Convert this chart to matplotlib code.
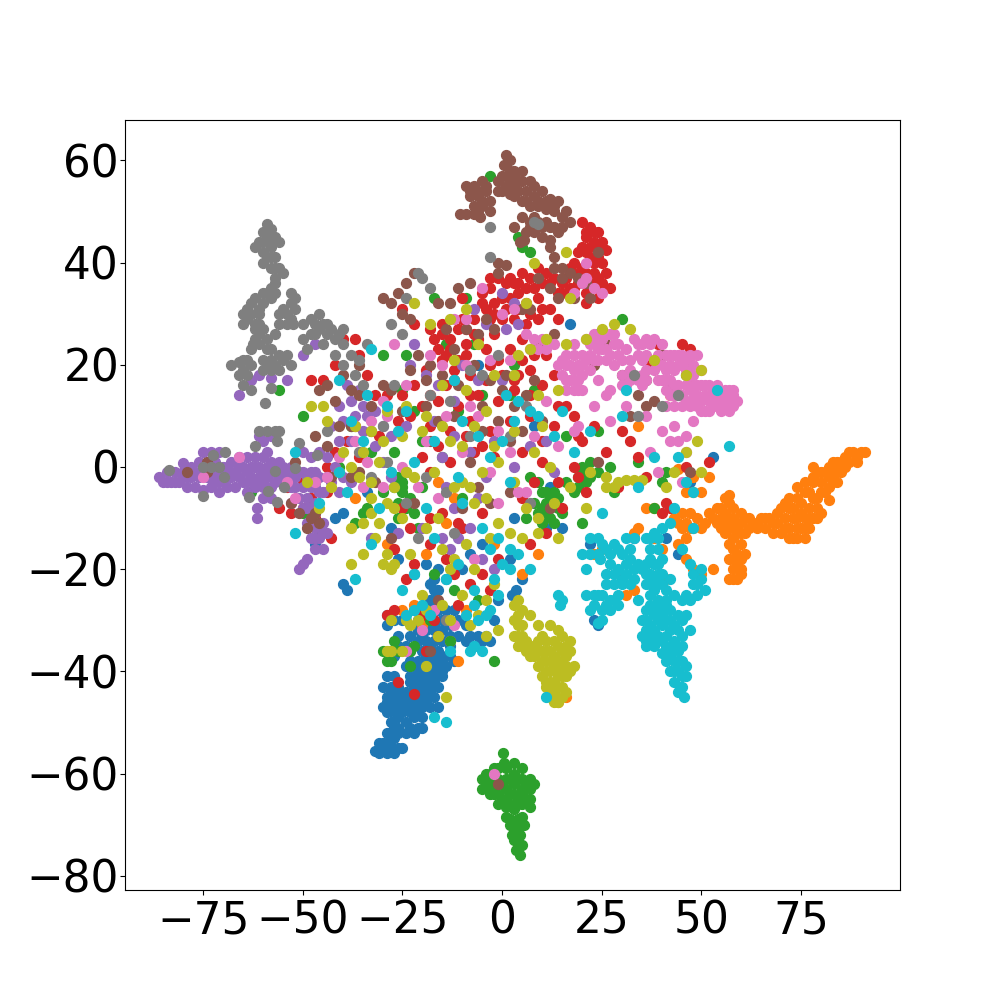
#!/usr/bin/env python3
"""t-SNE style scatter of ten classes, points read off the picture."""

import matplotlib
matplotlib.use("Agg")
import matplotlib.pyplot as plt

class0 = [(-32,-55.5),(-31,-56),(-30,-55),(-29,-56),(-28,-55),(-27,-56),(-26,-55),(-25,-55),(-30,-54),(-27,-53),
    (-29,-52),(-27,-51),(-28,-50),(-26,-49),(-29,-48),(-24,-52),(-22,-52),(-21,-51),(-24,-50),(-22,-49),
    (-20,-49),(-30,-47),(-28,-47),(-26,-47),(-24,-47),(-22,-47),(-20,-47),(-18,-47),(-16,-47),(-29,-45),
    (-27,-45),(-25,-45),(-23,-45),(-21,-45),(-19,-45),(-17,-45),(-30,-43),(-28,-43),(-26,-43),(-29,-41),
    (-27,-41),(-22,-43),(-20,-43),(-18,-43),(-16,-43),(-23,-41),(-21,-41),(-19,-41),(-17,-41),(-15,-41),
    (-24,-39),(-22,-39),(-20,-39),(-18,-39),(-16,-39),(-14,-39),(-12,-38),(-19,-37),(-17,-37),(-15,-37),
    (-13,-37),(-28,-36),(-26,-35),(-24,-35),(-26,-33),(-21,-34),(-19,-34),(-17,-34),(-15,-34),(-9,-34),
    (-7,-35),(-5,-34),(-3,-34),(-29,-31),(-27,-30),(-25,-30),(-21,-30),(-19,-31),(-17,-31),(-15,-30),
    (-13,-31),(-11,-30),(-20,-28),(-18,-28),(-16,-28),(-14,-28),(-17,-26),(-17,-24),(-17,-22),(-16,-20),
    (2.5,-25),(3.5,-24),(5,-22),(-9,-31),(-2,-30),(11,-12),(2,-18),(-40,-23),(-39,-24),(-40,-9),
    (-28,-12),(44,-17),(41,-14),(53,2),(47,-3),(15,-12),(30,-22),(-34,-5),(3,-10),(-18,-23),
    (-14,-22),(-1,-26),(12,-4),(-5,-15),(-8,-17),(-10,-20),(23,-30),(24,-31),(-42,-10),(33,-14),
    (-22,-21),(-19,-19),(8,8),(17,28),(24,26),(-6,20),(-47,-15),(22,-15),(-26,-18),
    (-31,-54),(-29,-54),(-28,-53),(-28,-52),(-26,-51),(-25,-48),(-23,-48),(-21,-48),(-27,-48),(-26,-52),
    (-23,-51),(-20,-51),(-29,-46),(-27,-46),(-25,-46),(-23,-46),(-21,-46),(-19,-46),(-28,-44),(-26,-44),
    (-24,-44),(-22,-44),(-20,-44),(-18,-44),(-23,-42),(-21,-42),(-19,-42),(-17,-42),(-15,-40),(-21,-40),
    (-19,-40),(-17,-40),(-23,-38),(-21,-38),(-17,-38),(-15,-38),(-13,-35),(-23,-36),(-20,-36),(-27,-37),
    (-21,-32),(-19,-32),(-17,-32),(-15,-32),(-13,-33),(-11,-33),(-23,-33),(-20,-33),(-18,-26),(-16,-24),
    (-18,-35),(-16,-36),(-8,-33),(-6,-33),(-4,-33),(-28,-30),(-29,-29),(-22,-28),(-12,-28)]
class1 = [(90,3),(89,2),(91,3),(88,3),(87,1),(86,0),(85,1),(84,-1),(83,1),(82,-2),
    (85,-1),(83,-3),(81,-5),(82,-6.5),(80,-3),(78,0),(79,-1),(80,-1),(78,-3),(76,-3),
    (74,-4),(77,-5),(79,-6),(72,-6),(75,-7),(77,-8),(79,-8),(70,-8),(73,-8),(71,-10),
    (74,-10),(76,-10),(78,-10),(80,-9),(69,-9),(68,-11),(72,-12),(75,-12),(77,-12),(70,-13),
    (73,-14),(76,-14),(67,-10),(65,-10),(63,-11),(61,-10),(66,-12),(64,-12),(62,-12),(68,-13),
    (60,-9),(58,-8),(56,-9),(54,-8),(55,-10),(57,-10),(59,-11),(53,-10),(55,-12),(57,-12),
    (59,-13),(61,-13),(56,-6),(57,-5.5),(58,-14),(60,-15),(57,-15),(59,-17),(61,-17),(57,-18),
    (59,-19),(58,-20),(60,-21),(57,-22),(59,-22),(44,-11),(46,-11),(48,-12),(50,-12),(51,-11),
    (47,-9),(45,-9),(43,-10),(44,-15),(46,-14),(33,-13),(34,-12),(36,-8),(38,-8),(48,-2),
    (44,-0.5),(46,-5),(48,-5),(50,-5),(52,-2),(48,-20),(50,-21),(53,-20),(46,-18),(23,-17),
    (25,-16),(38,-14),(40,-16),(41,-22),(14,-46),(16,-45),(31,-25),(33,-24),(-2,-15),(-9,-28),
    (-20,-31),(-22,-27),(-29,-15),(-12,-6),(-14,-11),(-25,-28),(-11,-38),(-13,-34),(5,-21),(-16,-3),
    (34,8),(42,14),(47,16),(-37,-6),(-19,-17),(9,-17),
    (89,1),(87,3),(86,2),(84,1),(82,0),(81,-1),(83,-1),(84,-3),(82,-4),(80,-5),
    (78,-2),(76,-5),(74,-6),(72,-8),(78,-6),(71,-7),(69,-11),(73,-10),(75,-9),(77,-10),
    (79,-10),(71,-12),(74,-12),(76,-12),(72,-14),(74,-14),(66,-10),(64,-11),(62,-10),(60,-11),
    (58,-10),(56,-11),(54,-11),(58,-12),(60,-13),(56,-13),(58,-16),(60,-18),(58,-18),(60,-20),(58,-22),
    (55,-8),(57,-7),(52,-9),(49,-10),(47,-12),(45,-12)]
class2 = [(0.3,-56),(0.5,-58),(-2,-59),(-4,-60),(3,-58),(5,-59),(-5,-61),(-3,-61),(-1,-61),(1,-61),
    (3,-60),(5,-61),(7,-61),(-5,-63),(-3,-63),(-1,-62),(1,-63),(3,-62),(5,-63),(7,-63),
    (8,-62),(-2,-64),(0,-65),(2,-64),(4,-65),(6,-65),(-1,-66),(2,-66),(4,-66),(7,-66.5),
    (1,-68.5),(5,-68.5),(2,-70),(4,-70),(5.5,-70),(3,-71),(2.5,-72),(4.5,-72),(3,-73),(5,-74),
    (3.5,-75),(4.5,-76),(-29,-38),(-30,-36),(-28,-38),(-26,-36),(-23,-36),(-27,-34),(-23,-39),(-22,-35),
    (-16,-33),(-18,-30),(-13,-34),(-26,-2),(-25,-3),(-24,-1),(-25,-5),(-26,-7),(-23,-6),(-26,-10),
    (-22,-9),(-20,-4),(-27,-4),(10,-5),(11,-7),(12,-8),(9,-9),(14,-6),(13,-5),(15,-9),
    (16,-3),(13,-11),(11,-9),(8,-7),(10,-11),(18,-5),(19,-2),(20,0),(22,-2),(24,-1),
    (20,-1),(21,-3),(22,1),(20,-11),(38,-8),(-37,-11),(-35,-9),(-46,-13),(-50,-9),(6,-10),
    (-24,22),(-25,15),(-17,33),(-14,24),(-9,33),(-27,3),(3,20),(-7,24),(5,43),(4,45),
    (-2,-38),(-30,22),(-34,-8),(-47,-3),(-50,10),(28,-5),(-30,-5),(-63,-5),(-38,8),(-56,15),
    (-10,-6),(7,42),(-3,57),(9,-3),(-15,2),(-5,14),(2,14),(-11,11),(8,15),(16,6),
    (24,7),(-20,5),(-33,3),(-41,0),(27,0),(34,1),(40,-3),(41,-1),(30,29),(7,-2),
    (-22,11),(-12,-24),(-6,-26),(-17,-21),(-21,-12),
    (-3,-60),(-1,-59),(1,-59),(-4,-62),(-2,-62),(0,-62),(2,-61),(4,-61),(6,-62),(-3,-64),
    (-1,-64),(1,-65),(3,-64),(5,-64),(7,-65),(1,-66.5),(3,-67),(5,-66),(2,-69),(4,-69),
    (3,-70),(4,-71),(3.5,-72),(4,-73.5),(4,-75),(12,-6),(10,-8),(12,-10),(14,-8),(11,-5),
    (-25,-4),(-24,-8),(19,-4),(21,-1)]
class3 = [(20,48),(22,47),(24,46),(21,45),(23,44),(25,44),(20,43),(26,42.5),(19,42),(22,41),
    (24,41),(18,40),(17,39),(20,39),(23,38),(26,38),(16,37),(19,36),(22,36),(25,36),(27,35),
    (17,35),(21,34),(24,35),(21,32),(24,33),(15,36),(13,37),(11,38),(9,39),(7,37),
    (5,38),(3,36),(1,36),(-1,37),(-3,35),(-5,34),(12,36),(8,35),(4,34),(2,33),
    (0,33),(-2,32),(-4,31),(6,32),(9,33),(14,34),(12,31),(-3,29),(0,29),(3,29),
    (6,28),(9,29),(14,29),(-7,29),(-10,29),(-15,28),(-17,25),(-18,27),(-15,26),(-13,25),
    (-11,27),(-9,24),(-13,23),(-11,21),(-6,25),(-4,23),(-2,26),(-1,21),(2,23),(5,25),
    (8,22),(11,22),(7,19),(4,18),(0,18),(-4,17),(-8,18),(-12,17),(-15,21),(-19,19),
    (-22,16),(-25,14),(-16,13),(-11,12),(-6,14),(-1,13),(3,15),(10,16),(13,18),(16,12),
    (-20,12),(-18,8),(-13,7),(-8,9),(-3,7),(2,9),(7,10),(14,12),(18,10),(20,5),
    (23,8),(26,3),(18,0),(14,-3),(10,1),(5,3),(-2,2),(-7,3),(-13,1),(-20,2),
    (-40,25),(-37,25),(-42,20),(-45,17),(-48,17),(-34,18),(-32,14),(-26,9),(-31,6),(-36,2),
    (-39,5),(-44,0),(-50,-8),(-53,-9),(-56,-8),(-54,-4),(-50,-3),(-48,-6),(-27,-16),(-18,-15),
    (-11,-11),(-5,-9),(-22,-44.5),(-26,-42),(-19,-36),(-16,-33),(-20,-29),(-17,-30),(-29,-29),(-27,-28),
    (-11,-27),(-12,-21),(-3,-24),(-1,-18),(-22,-19),(-24,-22),(-14,-18),(-5,-21),(-8,-23),(7,-15),
    (42,-8),(41,-7),(40,-9),(52,1),(46,0),(-18,-1),(-25,-8),(-23,-12),(-18,-10),(-15,-9),
    (-10,-12),(5,-6),(8,-3),(11,-13),(15,-8),(21,-5),(30,7),(34,2),(32,5),(-10,33),
    (-22,28),(-25,31),(-36,22),(19,-2),(29,-4),(36,-2),(-43,-14),(-47,-10),(-44,-5),(37,20),
    (39,24),(45,24),(47,23),
    (21,46),(23,46),(22,43),(24,43),(21,42),(23,40),(25,40),(19,38),(21,38),(24,37),
    (18,35),(15,34),(2,37),(4,36),(6,35),(10,36),(-3,37),(-5,32),(-2,30),(1,31),
    (4,31),(7,30),(10,31),(-16,23),(-14,22),(-9,27),(-7,26),(-12,19),(-9,22),(-3,20),
    (5,21),(3,17),(-8,14),(-14,16),(7,14),(-18,14),(-23,10),(-16,4),(-9,6),(-5,4),
    (10,5),(13,8),(19,6),(-29,14),(-37,8),(-42,3)]
class4 = [(-86,-2),(-85,-3),(-84,-1),(-83,-3),(-82,-1),(-81,-3),(-80,0.8),(-80,-2),(-79,-4),(-78,0),
    (-78,-2),(-77,-4),(-76,1),(-76,-2),(-75,-4.5),(-75,3),(-74,0),(-74,-2),(-73,-4),(-73,3),
    (-72,1),(-72,-1),(-71,-3),(-71,-5),(-71,3),(-70,0),(-69,-2),(-69,-4),(-68,1),(-67,-1),
    (-67,-4),(-66,2),(-65,0),(-65,-3),(-64,-5),(-64,2),(-63,0),(-63,-2),(-62,-4),(-62,2),
    (-61,0),(-61,-2),(-60,-4),(-60,-6),(-60,2),(-59,0),(-59,-2),(-58,-4),(-58,-6),(-58,1),
    (-57,-1),(-56,1),(-56,-2),(-55,0),(-55,-3),(-54,-1),(-53,0),(-52,-2),(-53,-4),(-51,-1),
    (-50,-4),(-49,-2),(-49,-6),(-48,-1),(-47,-4),(-47,-7),(-46,-2),(-45,-5),(-51,-6),(-50,-8),
    (-48,-8),(-53,-7),(-61.5,-8),(-61.5,-10),(-49,-11),(-47,-12),(-45,-11),(-48,-14),(-46,-14),(-44,-13),
    (-47,-16),(-45,-16),(-50,-19),(-49,-18),(-51,-20),(-58,6),(-60,5),(-61,6),(-59,3),(-50,3),
    (-48,2),(-46,3),(-44,2),(-42,0),(-40,-2),(-43,-3),(-41,-5),(-38,-3),(-41,5),(-38,5),
    (-35,7),(-43,8),(-40,9),(-37,10),(-34,10),(-41,12),(-38,13),(-35,12),(-32,11),(-36,15),
    (-39,16),(-30,8),(-28,6),(-24,8),(-32,4),(-30,1),(-28,-2),(-20,-12),(-15,-14),(-13,-16),
    (-11,-14),(-8,-12),(-5,-18),(-2,-20),(-15,2),(-12,6),(-8,3),(-4,-2),(-2,5),(3,0),
    (7,4),(11,5),(13,-1),(-10,20),(-6,17),(0,17),(-19,18),(-4,28),(1,27),(4,28),
    (-47,24),(-50,22),(-54,17),(-58,17.5),(-61,18),(-63,17),(-66,14),(-14,-4),(-12,-8),(-33,-14),
    (-26,-13),(-16,16),(-12,13),(-6,-6),(-17,9),(-23,20),(-7,31),(0,34),(3,32),(-22,24),
    (-84,-3),(-82,-3),(-80,-1),(-79,-2),(-77,-1),(-75,-1),(-73,-2),(-71,-1),(-69,0),(-68,-2),
    (-66,-2),(-64,-1),(-62,0),(-60,-1),(-58,-1),(-57,-3),(-55,-1),(-53,-2),(-52,-4),(-50,-1),
    (-48,-4),(-46,-5),(-47,-1),(-44,-2),(-49,-8),(-47,-9),(-45,-13),(-47,-14),(-60,-3),(-62,-3),
    (-64,-3),(-66,0),(-68,-1),(-70,-2),(-72,-3)]
class5 = [(1,61),(0.5,59),(2,60),(3,58),(1,57),(3,57),(5,58),(7,56),(-1,56),(1,55),
    (3,55),(5,56),(-1,54),(2,53.5),(4,54),(6,54),(8,55),(5,52),(8,53),(10,54),
    (12,52.5),(14,52),(16,50),(7,51),(9,51),(11,50.5),(13,50),(15,49),(17,48),(-9,55),
    (-7,55),(-5,56),(-4,54),(-8,53),(-6,53),(-3,52),(-7,51),(-5,51),(-3,50),(-10.5,49.5),
    (-9,49.5),(-7,49.5),(-5.5,49),(5,49),(7,48),(9,48),(11,48),(13,47),(6,46),(8,46),
    (10,45),(12,44.5),(14,46),(12,43),(3,47),(4.5,44),(5.5,44.5),(-1,40),(1,39.5),(-1,38),
    (15,39),(17,38),(13,39),(19,37),(15,37),(9,37),(12,35),(14,33),(18,33),(21,36),
    (24,42),(22,33),(13,41),(-30,33),(-28,32),(-26,34),(-24,36),(-22,38),(-25,30),(-23,29),
    (-13,32),(-16,32),(-11,35),(-8,36),(-4,29),(-2,27),(-6,26),(-9,27),(-12,23),(-18,20),
    (-21,22),(-19,17),(-23,19),(-15,18),(-11,16),(-7,20),(-5,12),(-1,9),(3,12),(6,14),
    (8,17),(5,7),(10,9),(1,18),(-44,16),(-46,15),(-40,18),(-42,13),(-38,15),(-36,20),
    (-33,12),(-30,16),(-41,8),(-47,6),(-44,4),(-52,1),(-53,-7),(-51,-9),(-48,-10),(-47,-9),
    (-38,-2),(-32,-3),(-28,-14),(-22,-7),(-10,-8),(-6,-4),(2,-5),(-16,-26),(-18,-36),(38,13),
    (36,17),(42,16),(34,14),(46,18),(23,20),(26,24),(30,18),(9,24),(13,26),(-3,17),
    (0,15),(-1,-62),(-16,9),(-12,10),(-18,5),(2,5),(-3,-7),(-8,1),(12,-8),(-38,8),
    (-14,27),(-19,12),(-5,7),(-33,7),(-36,-1),(-43,-2),(-28,15),(-25,11),(47,20),(40,22),
    (36,12),(32,10),(24,1),(47,-1),(7,31),(5,31),(-36,14),(-74,-1),(-79,-1),(-49,-12),(-46,-11),(-74,1),
    (2,58),(0,57),(2,56),(4,56),(0,54),(3,53),(6,52),(9,52),(11,52),(13,51),
    (-8,54),(-6,54),(-5,52),(-6,50),(8,49),(10,47),(12,47),(7,47),(-4,55),(15,47)]
class6 = [(59,13),(58,15),(57,13),(56,12),(55,14),(54,13),(53,15),(52,13),(51,14),(50,16),
    (49,14),(48,16),(47,15),(46,13),(45,12),(44,14),(43,16),(42,17),(41,15),(40,17),
    (57,11),(55,11),(53,12),(51,11),(58,12),(56,15),(54,16),(52,16),(49,12),(47,12),
    (43,12),(41,12),(50,19),(48,20),(46,19),(44,20),(42,20),(40,20),(49,22),(47,22),
    (45,22),(43,22),(41,22),(39,22),(37,24),(35,24),(33,25),(38,25),(36,22),(34,22),
    (38,19),(36,17),(33,18),(31,16),(30,18),(35,16),(32,21),(29,22),(28,24),(26,23),
    (27,26),(25,25),(24,23),(23,21),(22,24),(21,21),(20,18),(19,20),(18,22),(17,17),
    (16,20),(15,18),(21,25),(20,15),(18,15),(16,15),(19,17),(17,20),(15,21),(23,26),
    (26,21),(28,20),(27,15),(24,17),(13,24),(10,25),(8,25),(6,26),(9,23),(7,23),
    (11,23),(18,24),(21,40),(21,37),(20,36),(18,34),(23,35),(25,34),(3,31),(0,30),
    (-5,35),(-9,29),(19,8),(26,14),(31,12),(36,10),(40,7),(43,8),(46,6),(48,9),
    (50,11),(44,5),(42,5),(46,3),(27,9),(23,12),(18,7),(14,4),(8,6),(2,3),
    (-3,-1),(-8,12),(-14,10),(-19,5),(-25,0),(-30,-4),(-35,-4),(-44,-2),(-54,-3),(-66,2),
    (-75,-2),(-21,-4),(-27,24),(-17,-28),(-20,-32),(-24,-36),(-12,-31),(-7,-18),(-1,-7),(6,-5),
    (45,-3),(39,-1),(-52,-6),(-47,-3),(-37,5),(-34,1),(-29,10),(-33,9),(-41,2),(-12,29),
    (-9,20),(-6,10),(-1,7),(4,-5),(-10,3),(-16,-6),(-30,13),(-24,16),(-18,22),(-15,20),
    (-3,21),(2,21),(11,13),(37,3),(-2,-60),
    (57,15),(55,13),(53,14),(51,16),(49,16),(47,13),(45,14),(43,14),(41,17),(39,17),
    (58,14),(56,14),(54,12),(52,11),(50,13),(48,13),(46,16),(44,16),(42,14),(47,18),
    (45,20),(43,19),(41,19),(46,21),(44,22),(42,22),(48,18),(40,24),(36,25),(34,24),
    (36,19),(34,17),(32,17),(30,16),(32,19),(31,23),(29,24),(27,22),(25,23),(23,24),
    (22,22),(20,22),(18,19),(20,20),(22,19),(16,17),(18,17),(14,20),(16,22),(19,15),
    (24,21),(26,26),(24,25),(28,26),(35,21),(30,21),(38,21),(35,18)]
class7 = [(-59,47.5),(-58,46.5),(-60,46),(-61,44),(-59,45),(-57,45),(-62,43),(-60,42),(-58,43),(-56,44),
    (-59,41),(-57,41),(-58,39),(-56,39),(-57,37),(-55,38),(-58,35),(-59,34),(-57,34),(-60,32),
    (-62,33),(-64,31),(-65,30),(-65,28),(-63,30),(-61,30),(-61,28),(-60,27),(-53,34),(-52,33),
    (-52,31),(-54,30),(-56,30),(-52.5,28),(-54,28),(-56,28),(-57,26),(-62,27),(-62,25),(-63,23),
    (-62.5,24),(-59,25),(-59,23),(-60,21),(-58,21),(-56,22),(-54,22),(-53,20),(-56,19),(-58,19),
    (-60,19),(-64,21),(-66,20.5),(-68,20),(-66,18),(-65,21),(-64,18),(-65,16),(-63,15),(-58,15.5),
    (-59.4,12.5),(-50,28),(-48,29),(-46,30),(-44,28),(-46,27),(-48,26),(-44,26),(-42,25),(-40,24),
    (-40,27),(-38,22),(-36,21),(-37,18),(-40,20),(-34,24),(-42,22),(-45,24),(-50,25),(-49,23),
    (-61,7),(-59,7),(-57,7),(-56,7),(-62,4),(-56.5,5),(-72.5,2.3),(-73,0),(-71,0),(-75,0),
    (-69.5,3),(-83.5,-0.6),(-75,-5.7),(-69.7,-2),(-63.5,-5.8),(-58.7,-4.7),(-57,-0.7),(-52,-0.2),(-54.7,-4),(-56.5,-6.9),
    (-51,4.6),(-46.4,2.3),(-44,7),(-36,3),(-33,-2),(-29,1),(-27,16),(-30,8),(-35,16),(-28,28),
    (-25,26),(-24,33),(-18,14),(-13,13),(-8,6),(2,6),(6,12),(-21,-14),(-12,-13),(-18,35),
    (-20,37),(-21,38),(-3,41),(-3,47),(8,48),(9,47.5),(7,-7),(34,10),(44,14),(40,12),
    (33,18),(-8,19),(-5,18),(-1,22),(-12,17),(-14,-5),(-19,-2),(-24,-7),(-14,-30),
    (-60,44),(-58,44),(-60,40),(-58,41),(-57,39),(-57,36),(-60,34),(-58,33),(-63,32),(-61,31),
    (-64,29),(-53,32),(-55,31),(-53,29),(-62,28),(-61,26),(-61,24),(-58,23),(-59,20),(-57,20),
    (-55,21),(-65,19),(-63,20),(-47,28),(-45,28),(-43,27),(-41,26),(-47,26)]
class8 = [(3,-27),(4,-26),(5,-28),(3,-30),(5,-31),(3,-33),(5,-33),(4,-35),(6,-34),(8,-35),
    (10,-36),(6,-36),(8,-37),(11,-38),(13,-37),(15,-36),(17,-36),(7,-29),(9,-31),(10,-33),
    (12,-31),(14,-32),(13,-34),(15,-33),(17,-34),(9,-39),(11,-40),(13,-39),(15,-38),(17,-40),
    (18,-39),(10,-41),(12,-42),(14,-41),(16,-41),(11,-43),(13,-44),(15,-43),(16,-44),(12,-45),
    (14,-46),(13,-46),(-19,-28),(-21,-30),(-15,-27),(-13,-30),(-16,-33),(-23,-31),(-25,-36),(-28,-36),
    (-19,-39),(-8,-31),(-6,-29),(-4,-33),(-1,-32),(-4,-26),(-29,-17),(-32,-14),(-30,-19),(-28,-20),
    (-25,-10),(-29,-7),(-27,-4),(-33,-3),(-35,-11),(-38,-19),(-23,-17),(-16,-10),(-12,-18),(-9,-15),
    (-7,-7),(-4,-6),(-1,-11),(2,-13),(5,-14),(9,-10),(13,-7),(17,-4),(21,-8),(-5,-1),
    (-10,4),(-15,8),(-19,10),(-17,-1),(-13,5),(-8,-4),(-2,4),(3,7),(8,3),(12,0),
    (26,-2),(29,-3),(31,-2.5),(33,-2.5),(35,-2.5),(28,-4),(41,-4),(43,-1),(46,3),(49,5),
    (50,-1),(-4,11),(-9,15),(-15,16),(-12,21),(-6,24),(-18,28),(-13,29),(-9,31),(3,18),
    (9,14),(14,15),(7,23),(11,25),(16,24),(21,25),(25,27),(28,28),(32,27),(-29,11),
    (-25,6),(-36,-2),(-40,3),(-44,9),(-49,-3),(-38,-12),(22,-1),(8,40),(16,42),(17,33),
    (-29,-36),(-14,-45),(-20,-25),(-27,-19),(-13,-20),(-10,-25),(-7,-20),(-2,-23),(-19,-12),(-22,-2),
    (-31,-11),(-27,-8),(-33,-9),(-35,-17),(-43,-4),(-46,-8),(-41,-1),(-37,8),(-33,7),(-24,-1),
    (-20,7),(-7,8),(-1,1),(10,8),(-3,-14),(3,-3),(6,-8),(9,-13),(14,-14),(-15,-16),
    (-31,1),(-35,3),(-38,0),(-24,12),(-30,5),(-45,12),(-48,12),(-12,-4),(6,32),(4,22),
    (-2,18),(46,18),(50,19),(38,21),(-22,32),(-33,-6),(-28,-30),(-24,-30),(-10,-3),(26,-4),
    (4,-29),(4,-31),(4,-33),(5,-35),(7,-35),(9,-36),(7,-37),(10,-38),(12,-36),(14,-35),
    (16,-37),(11,-36),(13,-38),(12,-40),(14,-40),(16,-39),(15,-40),(11,-42),(13,-42),(15,-41),
    (12,-43),(14,-43),(13,-45),(15,-45),(14,-38),(16,-35),(9,-34),(11,-34)]
class9 = [(45.5,-45),(44,-44),(43,-42),(45,-43),(46,-41),(44,-40),(42,-40),(46,-39),(41,-38),(43,-38),
    (45,-38),(40,-36.5),(42,-36),(44,-36),(38,-35),(36,-35),(35,-33),(37,-33),(39,-33),(41,-33),
    (43,-34),(45,-33),(47,-32),(35,-30),(37,-31),(39,-30),(41,-30),(43,-31),(45,-30),(46,-29),
    (36,-28),(38,-28),(40,-28),(42,-28),(37,-25),(39,-26),(41,-26),(43,-25),(36,-23),(38,-24),
    (40,-23),(42,-22),(37,-21),(39,-21),(36,-19),(38,-19),(40,-18),(37,-16),(39,-16),(36,-14),
    (38,-13),(40,-12),(42,-11),(45,-16),(47,-19),(48,-21),(50,-22),(51,-24),(49,-25),(47,-26),
    (45,-26),(24.6,-18),(26,-16),(28,-15),(30,-17),(32,-18),(34,-19),(36,-21),(27,-19),(29,-20),
    (31,-21),(33,-22),(26,-21),(28,-23),(30,-23),(32,-16),(33,-14),(31,-14),(24,-14),(22,-14),
    (20,-17),(22,-17),(24,-17),(21,-20),(29,-25),(27,-26),(25,-25),(23,-25),(21,-25),(27,-28),
    (25,-28),(29,-27),(22,-28),(24,-30.5),(25,-30),(34,-26),(14,-25),(15,-26),(14.5,-27),(-17,-49),
    (-14,-50),(-13,-36),(-8,-36),(-7,-35),(-5,-36),(-3,-28),(-7,-24),(-1,-25),(-2,-22),(2,-20),
    (4,-17),(7,-20),(-3,-16),(-5,-12),(-1,-14),(0,-19),(2,-16),(-22,-21),(-25,-24),(-37,-22),
    (-19,-8),(-26,7),(-22,1),(-17,5),(-28,-1),(-35,5),(-38,9),(-34,14),(-33,23),(-6,6),
    (0,5),(7,11),(9,10),(13,6),(18,3),(22,7),(15,11),(2,-3),(-3,2),(-11,-2),
    (30,10),(38,2),(57,4),(31,15),(54,15),(48,-5),(-46,-7),(-52,-13),(-41,-1),(-52,3),
    (-33,-15),(25,-9),(-12,17),(-10,9),(11,-45),(-24,-29),(-22,-28),(-20,-27),(-18,-29),(-6,-30),
    (-4,-29),(-7,-27),(-9,-29),(-14,-22),(-11,-19),(1,14),(4,13),(3,9),(-10,-7),(-17,-14),
    (-31,-8),(-39,-5),(44,2),(46,-3),(43,-8),(48,-12),(34,-4),(-41,17),(-29,12),(-24,11),
    (44.5,-43),(45,-41),(43,-40),(44,-38),(42,-37),(41,-35),(43,-35),(45,-35),(36,-34),(38,-34),
    (40,-34),(36,-32),(38,-32),(40,-31),(42,-32),(44,-32),(36,-30),(38,-29),(40,-29),(42,-30),
    (44,-29),(37,-27),(39,-27),(41,-27),(37,-23),(39,-23),(41,-24),(38,-22),(40,-21),(37,-18),
    (39,-19),(37,-14),(39,-14),(25,-15),(27,-17),(29,-16),(31,-19),(33,-20),(35,-20),(28,-21),
    (30,-22),(32,-23),(26,-23),(24,-25),(26,-27),(23,-27),(28,-26),(49,-23),(50,-20),(48,-23),(46,-25)]

point_sets = [class0, class1, class2, class3, class4,
              class5, class6, class7, class8, class9]
x_ticks = [-75, -50, -25, 0, 25, 50, 75]

fig, ax = plt.subplots(figsize=(10, 10), dpi=100)
for i, pts in enumerate(point_sets):
    xs = [p[0] for p in pts]
    ys = [p[1] for p in pts]
    ax.scatter(xs, ys, s=50, color=f"C{i}")

ax.set_xlim(-94.6, 99.8)
ax.set_ylim(-82.8, 67.9)
ax.set_xticks(x_ticks)
ax.tick_params(labelsize=31.5)
ax.tick_params(axis="y", pad=0.8)

plt.savefig("out.png")
